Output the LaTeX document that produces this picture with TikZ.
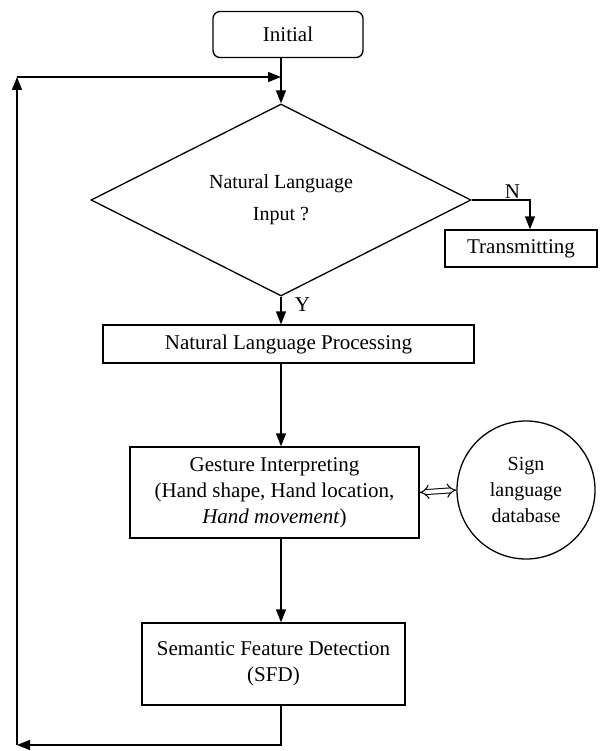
\documentclass[tikz,border=0pt]{standalone}
\usepackage{fontspec}
\setmainfont{Liberation Serif}
\usetikzlibrary{arrows.meta,shapes.geometric}
\tikzset{
  every picture/.style={x=1pt,y=-1pt,line width=1.3pt,font=\fontsize{21}{26}\selectfont},
  stage/.style={draw,rectangle,align=center,inner sep=2pt},
  flow/.style={-{Triangle[length=13pt,width=10pt]}},
  link/.style={double,double distance=4pt,line width=1pt,{Implies}-{Implies}},
}
\begin{document}
\begin{tikzpicture}
  \useasboundingbox (0,0) rectangle (599,751);
  \node[stage,rounded corners=7pt,minimum width=150pt,minimum height=46pt] (init) at (288,34.5) {Initial};
  \node[draw,diamond,aspect=2,minimum width=380pt,minimum height=192pt,align=center,inner sep=0pt,
        font=\fontsize{20}{32}\selectfont] (dec) at (281,200) {Natural Language\\Input ?};
  \node[stage,minimum width=152pt,minimum height=37pt] (trans) at (521,248.5) {Transmitting};
  \node[stage,minimum width=371pt,minimum height=38pt] (nlp) at (288.5,344) {Natural Language Processing};
  \node[stage,minimum width=289pt,minimum height=91pt] (gest) at (274.5,492.5) {Gesture Interpreting\\(Hand shape, Hand location,\\\textit{Hand movement})};
  \node[draw,circle,minimum size=138pt,align=center,inner sep=0pt,font=\fontsize{20}{26}\selectfont] (db) at (526,490) {Sign\\language\\database};
  \node[stage,minimum width=263pt,minimum height=82pt] (sfd) at (273.5,664) {Semantic Feature Detection\\(SFD)};
  \coordinate (merge) at (281,77);
  \coordinate (lb) at (17,745);
  \coordinate (lt) at (17,77);

  \draw (merge |- init.south) -- (merge);
  \draw[flow] (merge) -- (dec.north);
  \draw[flow] (dec.east) -| ([xshift=9pt]trans.north) node[pos=0.35,above=-2pt] {N};
  \draw[flow] (dec.south) -- (dec.south |- nlp.north) node[pos=0.3,right=10pt] {Y};
  \draw[flow] (merge |- nlp.south) -- (merge |- gest.north);
  \draw[link] (gest.east) -- (db.west);
  \draw[flow] (merge |- gest.south) -- (merge |- sfd.north);
  \draw[flow] (merge |- sfd.south) |- (lb);
  \draw[flow] (lb) -- (lt);
  \draw[flow] (lt) -- (merge);
\end{tikzpicture}
\end{document}
